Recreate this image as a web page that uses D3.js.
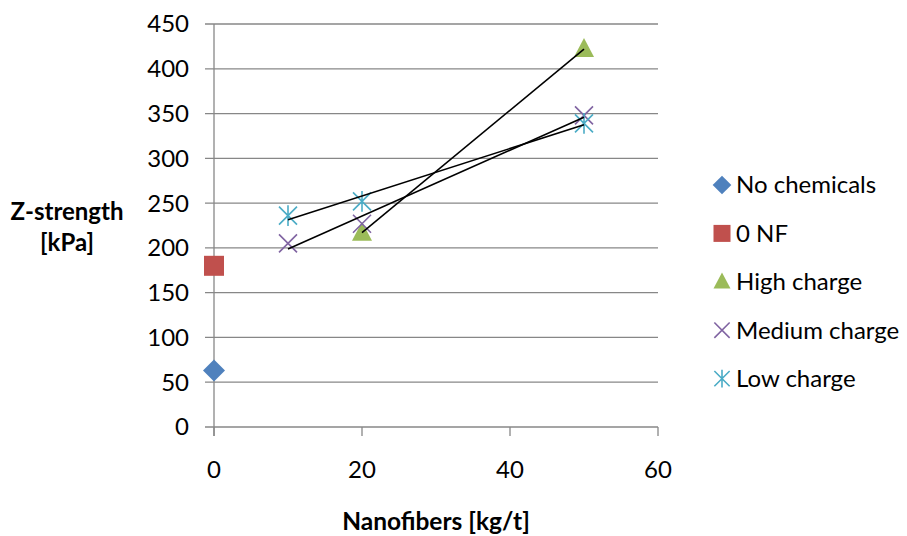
<!DOCTYPE html>
<html><head><meta charset="utf-8">
<script src="https://cdn.jsdelivr.net/npm/d3@7"></script>
<style>body{margin:0;background:#fff;}svg{display:block;}text{font-family:Lato,"Open Sans",sans-serif;}</style>
</head><body>
<svg id="c" width="907" height="536"></svg>
<script>
const seriesNames = ["No chemicals","0 NF","High charge","Medium charge","Low charge"];
const seriesColors = ["#4F81BD","#C0504D","#9BBB59","#8064A2","#4BACC6"];
const seriesShapes = ["diamond","square","triangle","x","asterisk"];
const noChemicals = [{x:0,y:63}];
const zeroNF = [{x:0,y:180}];
const highCharge = [{x:20,y:217},{x:50,y:422}];
const mediumCharge = [{x:10,y:205},{x:20,y:227},{x:50,y:348}];
const lowCharge = [{x:10,y:236},{x:20,y:252},{x:50,y:339}];
const trendSeries = [2,3,4];
const xTicks = [0,20,40,60];
const yTicks = [0,50,100,150,200,250,300,350,400,450];
const allData = [noChemicals, zeroNF, highCharge, mediumCharge, lowCharge];

const FS = 24;
const svg = d3.select("#c");
const x = d3.scaleLinear().domain([0,60]).range([214,658]);
const y = d3.scaleLinear().domain([0,450]).range([427,24]);
const grid = "#878787";

svg.append("g").selectAll("line").data(yTicks).join("line")
  .attr("x1",205).attr("x2",658).attr("y1",d=>y(d)).attr("y2",d=>y(d))
  .attr("stroke",grid).attr("stroke-width",1.3);
svg.append("line").attr("x1",x(0)).attr("x2",x(0)).attr("y1",y(450)).attr("y2",y(0)+9)
  .attr("stroke",grid).attr("stroke-width",1.3);
svg.append("g").selectAll("line").data(xTicks).join("line")
  .attr("x1",d=>x(d)).attr("x2",d=>x(d)).attr("y1",y(0)).attr("y2",y(0)+9)
  .attr("stroke",grid).attr("stroke-width",1.3);
svg.append("g").selectAll("text").data(yTicks).join("text")
  .attr("x",189).attr("y",d=>y(d)).attr("dy","0.35em").attr("text-anchor","end")
  .attr("font-size",FS).attr("fill","#000").text(d=>d);
svg.append("g").selectAll("text").data(xTicks).join("text")
  .attr("x",d=>x(d)).attr("y",470).attr("dy","0.35em").attr("text-anchor","middle")
  .attr("font-size",FS).attr("fill","#000").text(d=>d);
svg.append("text").attr("x",67).attr("y",212).attr("dy","0.35em").attr("text-anchor","middle")
  .attr("font-size",FS).attr("font-weight","bold").text("Z-strength");
svg.append("text").attr("x",67).attr("y",243).attr("dy","0.35em").attr("text-anchor","middle")
  .attr("font-size",FS).attr("font-weight","bold").text("[kPa]");
svg.append("text").attr("x",436).attr("y",521).attr("dy","0.35em").attr("text-anchor","middle")
  .attr("font-size",FS+0.5).attr("font-weight","bold").text("Nanofibers [kg/t]");

function drawMarker(g, shape, color, cx, cy, s){
  s = s||1;
  if(shape==="diamond"){
    g.append("path").attr("d",`M${cx},${cy-11*s}L${cx+11*s},${cy}L${cx},${cy+11*s}L${cx-11*s},${cy}Z`).attr("fill",color);
  } else if(shape==="square"){
    g.append("rect").attr("x",cx-10*s).attr("y",cy-10*s).attr("width",20*s).attr("height",20*s).attr("fill",color);
  } else if(shape==="triangle"){
    g.append("path").attr("d",`M${cx},${cy-11*s}L${cx+10*s},${cy+8*s}L${cx-10*s},${cy+8*s}Z`).attr("fill",color);
  } else if(shape==="x"){
    const r=9*s;
    g.append("path").attr("d",`M${cx-r},${cy-r}L${cx+r},${cy+r}M${cx-r},${cy+r}L${cx+r},${cy-r}`)
      .attr("stroke",color).attr("stroke-width",1.6).attr("fill","none");
  } else if(shape==="asterisk"){
    const r=9*s;
    g.append("path").attr("d",`M${cx-r},${cy-r}L${cx+r},${cy+r}M${cx-r},${cy+r}L${cx+r},${cy-r}M${cx},${cy-r*1.15}L${cx},${cy+r*1.15}`)
      .attr("stroke",color).attr("stroke-width",1.6).attr("fill","none");
  }
}

const mg = svg.append("g");
allData.forEach((data,i)=>{
  data.forEach(d=>drawMarker(mg, seriesShapes[i], seriesColors[i], x(d.x), y(d.y)));
});

const tg = svg.append("g");
trendSeries.forEach(i=>{
  const data = allData[i];
  const mx = d3.mean(data,d=>d.x), my = d3.mean(data,d=>d.y);
  const sxx = d3.sum(data,d=>(d.x-mx)**2), sxy = d3.sum(data,d=>(d.x-mx)*(d.y-my));
  const b = sxy/sxx, a = my-b*mx;
  const [x0,x1] = d3.extent(data,d=>d.x);
  tg.append("line").attr("x1",x(x0)).attr("y1",y(a+b*x0)).attr("x2",x(x1)).attr("y2",y(a+b*x1))
    .attr("stroke","#000").attr("stroke-width",1.6);
});

const lg = svg.append("g");
seriesNames.forEach((n,i)=>{
  const cy = 185 + i*48.4;
  drawMarker(lg, seriesShapes[i], seriesColors[i], 722, cy, 0.85);
  lg.append("text").attr("x",736).attr("y",cy).attr("dy","0.35em").attr("font-size",FS).text(n);
});
</script>
</body></html>
